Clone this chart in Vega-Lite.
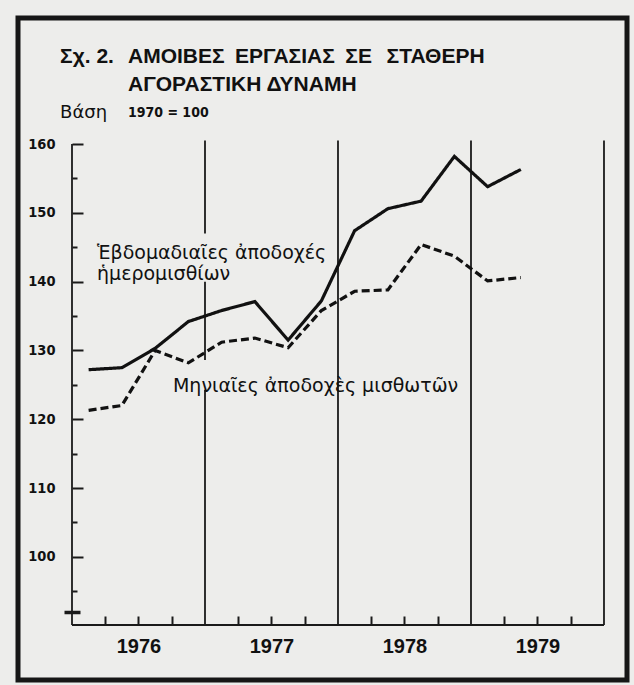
{
  "$schema": "https://vega.github.io/schema/vega-lite/v6.json",
  "width": 609,
  "height": 662,
  "autosize": {"type": "none"},
  "padding": {"left": 18, "top": 18, "right": 7, "bottom": 5},
  "background": "#ededeb",
  "config": {
    "view": {"stroke": "#161616", "strokeWidth": 5},
    "axis": {"grid": false, "domain": false}
  },
  "datasets": {
    "series": [
      {"t": 1976.125, "series": "Ἑβδομαδιαῖες ἀποδοχὲς ἡμερομισθίων", "value": 127.2},
      {"t": 1976.375, "series": "Ἑβδομαδιαῖες ἀποδοχὲς ἡμερομισθίων", "value": 127.5},
      {"t": 1976.625, "series": "Ἑβδομαδιαῖες ἀποδοχὲς ἡμερομισθίων", "value": 130.3},
      {"t": 1976.875, "series": "Ἑβδομαδιαῖες ἀποδοχὲς ἡμερομισθίων", "value": 134.2},
      {"t": 1977.125, "series": "Ἑβδομαδιαῖες ἀποδοχὲς ἡμερομισθίων", "value": 135.8},
      {"t": 1977.375, "series": "Ἑβδομαδιαῖες ἀποδοχὲς ἡμερομισθίων", "value": 137.1},
      {"t": 1977.625, "series": "Ἑβδομαδιαῖες ἀποδοχὲς ἡμερομισθίων", "value": 131.5},
      {"t": 1977.875, "series": "Ἑβδομαδιαῖες ἀποδοχὲς ἡμερομισθίων", "value": 137.2},
      {"t": 1978.125, "series": "Ἑβδομαδιαῖες ἀποδοχὲς ἡμερομισθίων", "value": 147.4},
      {"t": 1978.375, "series": "Ἑβδομαδιαῖες ἀποδοχὲς ἡμερομισθίων", "value": 150.6},
      {"t": 1978.625, "series": "Ἑβδομαδιαῖες ἀποδοχὲς ἡμερομισθίων", "value": 151.7},
      {"t": 1978.875, "series": "Ἑβδομαδιαῖες ἀποδοχὲς ἡμερομισθίων", "value": 158.2},
      {"t": 1979.125, "series": "Ἑβδομαδιαῖες ἀποδοχὲς ἡμερομισθίων", "value": 153.8},
      {"t": 1979.375, "series": "Ἑβδομαδιαῖες ἀποδοχὲς ἡμερομισθίων", "value": 156.3},
      {"t": 1976.125, "series": "Μηνιαῖες ἀποδοχὲς μισθωτῶν", "value": 121.3},
      {"t": 1976.375, "series": "Μηνιαῖες ἀποδοχὲς μισθωτῶν", "value": 122.0},
      {"t": 1976.625, "series": "Μηνιαῖες ἀποδοχὲς μισθωτῶν", "value": 130.0},
      {"t": 1976.875, "series": "Μηνιαῖες ἀποδοχὲς μισθωτῶν", "value": 128.2},
      {"t": 1977.125, "series": "Μηνιαῖες ἀποδοχὲς μισθωτῶν", "value": 131.2},
      {"t": 1977.375, "series": "Μηνιαῖες ἀποδοχὲς μισθωτῶν", "value": 131.8},
      {"t": 1977.625, "series": "Μηνιαῖες ἀποδοχὲς μισθωτῶν", "value": 130.4},
      {"t": 1977.875, "series": "Μηνιαῖες ἀποδοχὲς μισθωτῶν", "value": 135.8},
      {"t": 1978.125, "series": "Μηνιαῖες ἀποδοχὲς μισθωτῶν", "value": 138.6},
      {"t": 1978.375, "series": "Μηνιαῖες ἀποδοχὲς μισθωτῶν", "value": 138.8},
      {"t": 1978.625, "series": "Μηνιαῖες ἀποδοχὲς μισθωτῶν", "value": 145.4},
      {"t": 1978.875, "series": "Μηνιαῖες ἀποδοχὲς μισθωτῶν", "value": 143.7},
      {"t": 1979.125, "series": "Μηνιαῖες ἀποδοχὲς μισθωτῶν", "value": 140.1},
      {"t": 1979.375, "series": "Μηνιαῖες ἀποδοχὲς μισθωτῶν", "value": 140.6}
    ],
    "frame": [
      {"x": 1976, "x2": 1976, "y": 90.1, "y2": 160},
      {"x": 1977, "x2": 1977, "y": 90.1, "y2": 124.3},
      {"x": 1977, "x2": 1977, "y": 128.6, "y2": 140.0},
      {"x": 1977, "x2": 1977, "y": 147.0, "y2": 160.5},
      {"x": 1978, "x2": 1978, "y": 90.1, "y2": 160.5},
      {"x": 1979, "x2": 1979, "y": 90.1, "y2": 160.5},
      {"x": 1980, "x2": 1980, "y": 90.1, "y2": 160.5},
      {"x": 1976, "x2": 1980, "y": 90.1, "y2": 90.1}
    ]
  },
  "layer": [
    {
      "data": {"name": "frame"},
      "mark": {"type": "rule", "color": "#1a1a1a", "strokeWidth": 1.8},
      "encoding": {
        "x": {
          "field": "x", "type": "quantitative",
          "scale": {"domain": [1975.594, 1980.173], "nice": false, "zero": false},
          "axis": {
            "title": null, "orient": "bottom", "offset": -55, "zindex": 1,
            "values": [1976.25, 1976.5, 1976.75, 1977.25, 1977.5, 1977.75, 1978.25, 1978.5, 1978.75, 1979.25, 1979.5, 1979.75],
            "labelExpr": "datum.value % 1 === 0.5 ? floor(datum.value) : ''",
            "tickSize": -9, "ticks": true, "tickWidth": 2, "tickColor": "#1a1a1a",
            "labelPadding": 20, "labelOverlap": false, "labelFlush": false,
            "labelFont": "Liberation Sans", "labelFontWeight": "bold", "labelFontSize": 20, "labelColor": "#111111"
          }
        },
        "x2": {"field": "x2"},
        "y": {
          "field": "y", "type": "quantitative",
          "scale": {"domain": [82.11, 178.31], "nice": false, "zero": false},
          "axis": {
            "title": null, "orient": "left", "offset": -54, "zindex": 1,
            "values": [92, 95, 100, 105, 110, 115, 120, 125, 130, 135, 140, 145, 150, 155, 160],
            "labelExpr": "datum.value % 10 === 0 ? datum.label : ''",
            "tickSize": -5, "ticks": true, "tickWidth": 2, "tickColor": "#1a1a1a",
            "labelPadding": 22, "labelOverlap": false, "labelFlush": false, "labelBaseline": "middle",
            "labelFont": "DejaVu Sans Condensed", "labelFontWeight": "bold", "labelFontSize": 14.5, "labelColor": "#111111",
            "encoding": {"ticks": {
              "x": {"condition": {"test": "datum.value === 92", "value": -8}, "value": 0},
              "x2": {"condition": [{"test": "datum.value === 92", "value": 8}, {"test": "datum.value % 10 === 0", "value": 11}], "value": 5},
              "strokeWidth": {"condition": {"test": "datum.value === 92", "value": 3.5}, "value": 2}
            }}
          }
        },
        "y2": {"field": "y2"}
      }
    },
    {
      "data": {"name": "series"},
      "mark": {"type": "line", "color": "#111111", "strokeWidth": 3.2, "strokeJoin": "miter"},
      "encoding": {
        "x": {"field": "t", "type": "quantitative", "axis": {"title": null}},
        "y": {"field": "value", "type": "quantitative", "axis": {"title": null}},
        "strokeDash": {
          "field": "series", "type": "nominal",
          "scale": {"domain": ["Ἑβδομαδιαῖες ἀποδοχὲς ἡμερομισθίων", "Μηνιαῖες ἀποδοχὲς μισθωτῶν"], "range": [[1, 0], [8, 4]]},
          "legend": null
        }
      }
    },
    {
      "data": {"values": [{}]},
      "mark": {"type": "text", "align": "left", "baseline": "middle", "font": "Liberation Sans", "fontWeight": "bold", "fontSize": 21, "color": "#111111"},
      "encoding": {
        "x": {"datum": 1975.91, "type": "quantitative"},
        "y": {"datum": 172.65, "type": "quantitative"},
        "text": {"value": "Σχ. 2."}
      }
    },
    {
      "data": {"values": [{}]},
      "mark": {"type": "text", "align": "left", "baseline": "middle", "font": "Liberation Sans", "fontWeight": "bold", "fontSize": 21, "color": "#111111"},
      "encoding": {
        "x": {"datum": 1976.421, "type": "quantitative"},
        "y": {"datum": 172.65, "type": "quantitative"},
        "text": {"value": "ΑΜΟΙΒΕΣ\u2002ΕΡΓΑΣΙΑΣ\u2002ΣΕ\u2002\u2009ΣΤΑΘΕΡΗ"}
      }
    },
    {
      "data": {"values": [{}]},
      "mark": {"type": "text", "align": "left", "baseline": "middle", "font": "Liberation Sans", "fontWeight": "bold", "fontSize": 21, "color": "#111111"},
      "encoding": {
        "x": {"datum": 1976.421, "type": "quantitative"},
        "y": {"datum": 168.58, "type": "quantitative"},
        "text": {"value": "ΑΓΟΡΑΣΤΙΚΗ ΔΥΝΑΜΗ"}
      }
    },
    {
      "data": {"values": [{}]},
      "mark": {"type": "text", "align": "left", "baseline": "middle", "font": "DejaVu Sans", "fontSize": 18, "color": "#111111"},
      "encoding": {
        "x": {"datum": 1975.91, "type": "quantitative"},
        "y": {"datum": 164.51, "type": "quantitative"},
        "text": {"value": "Βάση"}
      }
    },
    {
      "data": {"values": [{}]},
      "mark": {"type": "text", "align": "left", "baseline": "middle", "font": "DejaVu Sans Condensed", "fontWeight": "bold", "fontSize": 14, "color": "#111111"},
      "encoding": {
        "x": {"datum": 1976.421, "type": "quantitative"},
        "y": {"datum": 164.51, "type": "quantitative"},
        "text": {"value": "1970 = 100"}
      }
    },
    {
      "data": {"values": [{}]},
      "mark": {"type": "text", "align": "left", "baseline": "middle", "font": "DejaVu Sans", "fontSize": 19, "color": "#111111"},
      "encoding": {
        "x": {"datum": 1976.188, "type": "quantitative"},
        "y": {"datum": 144.16, "type": "quantitative"},
        "text": {"value": "Ἑβδομαδιαῖες ἀποδοχές"}
      }
    },
    {
      "data": {"values": [{}]},
      "mark": {"type": "text", "align": "left", "baseline": "middle", "font": "DejaVu Sans", "fontSize": 19, "color": "#111111"},
      "encoding": {
        "x": {"datum": 1976.188, "type": "quantitative"},
        "y": {"datum": 141.1, "type": "quantitative"},
        "text": {"value": "ἡμερομισθίων"}
      }
    },
    {
      "data": {"values": [{}]},
      "mark": {"type": "text", "align": "left", "baseline": "middle", "font": "DejaVu Sans", "fontSize": 19, "color": "#111111"},
      "encoding": {
        "x": {"datum": 1976.759, "type": "quantitative"},
        "y": {"datum": 124.83, "type": "quantitative"},
        "text": {"value": "Μηνιαῖες ἀποδοχὲς μισθωτῶν"}
      }
    }
  ]
}
